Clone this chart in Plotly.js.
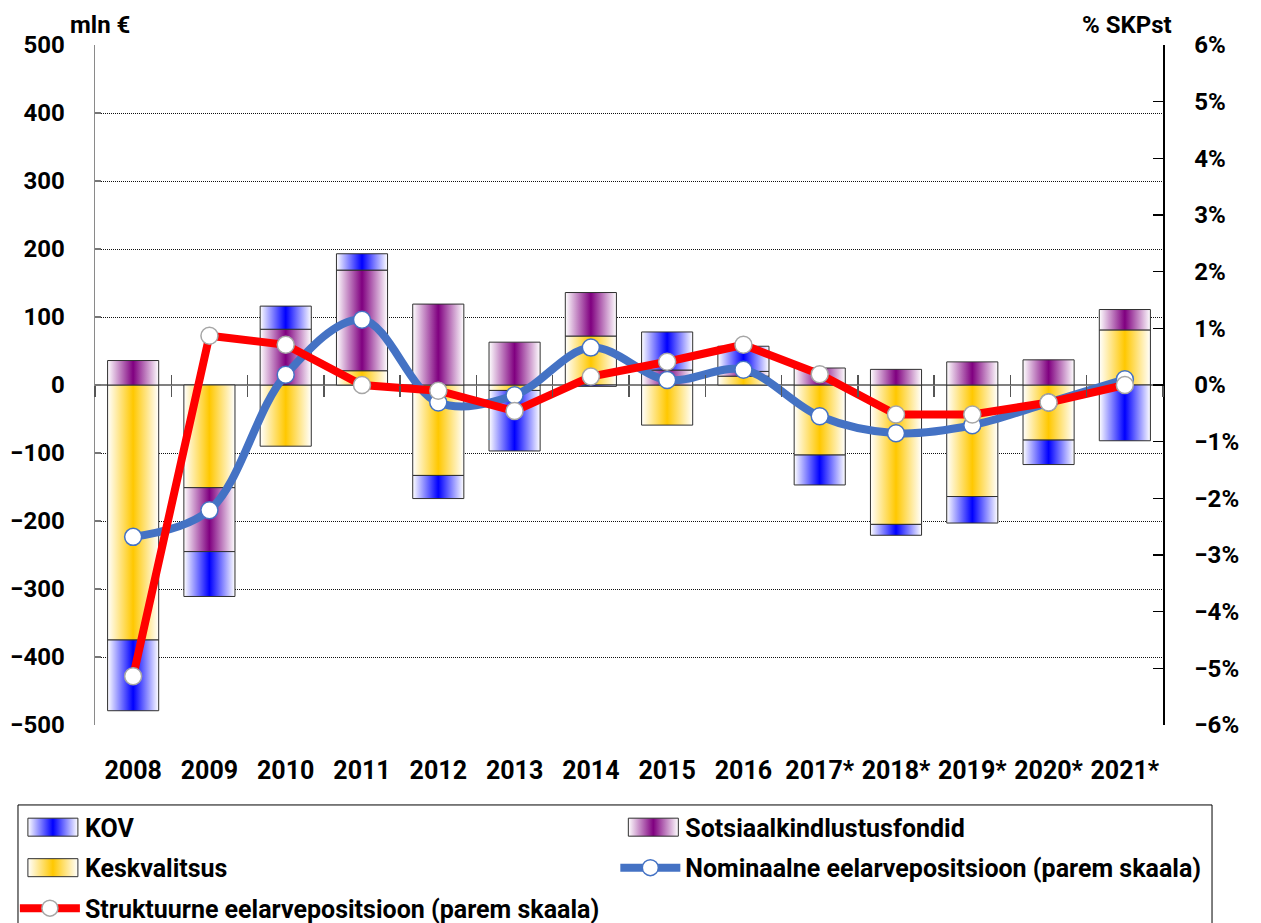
<!DOCTYPE html>
<html>
<head>
<meta charset="utf-8">
<script src="https://cdn.plot.ly/plotly-3.0.1.min.js"></script>
<style>
html,body{margin:0;padding:0;background:#fff;}
#chart{width:1261px;height:923px;}
</style>
</head>
<body>
<div id="chart"></div>
<script>
// ---- data ----
var years = ['2008','2009','2010','2011','2012','2013','2014','2015','2016','2017*','2018*','2019*','2020*','2021*'];
var keskvalitsus = [-375, -151, -90, 21, -133, -8, 72, -59, 13, -103, -205, -164, -81, 81];
var sotsiaal = [36, -94, 82, 148, 119, 63, 64, 22, 7, 25, 23, 34, 37, 30];
var kov = [-104, -66, 34, 24, -34, -89, -2, 56, 37, -44, -16, -39, -36, -82];
var nominaalne = [-2.68, -2.21, 0.18, 1.15, -0.31, -0.18, 0.66, 0.09, 0.27, -0.55, -0.85, -0.71, -0.31, 0.10];
var struktuurne = [-5.14, 0.87, 0.71, 0.0, -0.10, -0.46, 0.15, 0.41, 0.71, 0.19, -0.52, -0.52, -0.31, 0.0];

var names = {
  kov: 'KOV',
  sots: 'Sotsiaalkindlustusfondid',
  kesk: 'Keskvalitsus',
  nom: 'Nominaalne eelarvepositsioon (parem skaala)',
  str: 'Struktuurne eelarvepositsioon (parem skaala)'
};
var gradColors = {};
gradColors[names.kov] = '#0000FF';
gradColors[names.sots] = '#800080';
gradColors[names.kesk] = '#FFC800';

var FONT = 'Roboto, "Liberation Sans", Arial, sans-serif';
var barLine = {color: '#303030', width: 1};

var traces = [
  {type: 'bar', name: names.kesk, x: years, y: keskvalitsus, marker: {color: '#FFC800', line: barLine},
   legend: 'legend', legendgroup: 'g3', legendrank: 2},
  {type: 'bar', name: names.sots, x: years, y: sotsiaal, marker: {color: '#800080', line: barLine},
   legend: 'legend2', legendgroup: 'g2', legendrank: 1},
  {type: 'bar', name: names.kov, x: years, y: kov, marker: {color: '#0000FF', line: barLine},
   legend: 'legend', legendgroup: 'g1', legendrank: 1},
  {type: 'scatter', mode: 'lines+markers', name: names.nom, x: years, y: nominaalne,
   xaxis: 'x2', yaxis: 'y2',
   line: {color: '#4472C4', width: 8, shape: 'spline', smoothing: 1},
   marker: {size: 17, color: '#FFFFFF', line: {color: '#4472C4', width: 1.5}},
   legend: 'legend2', legendgroup: 'g4', legendrank: 2},
  {type: 'scatter', mode: 'lines+markers', name: names.str, x: years, y: struktuurne,
   xaxis: 'x2', yaxis: 'y2',
   line: {color: '#FF0000', width: 8},
   marker: {size: 17, color: '#FFFFFF', line: {color: '#A6A6A6', width: 1.5}},
   legend: 'legend', legendgroup: 'g5', legendrank: 3}
];

var tickF = {family: FONT, size: 24, color: '#000', weight: 700};
var legF = {family: FONT, size: 25, color: '#000', weight: 700};

var layout = {
  width: 1261, height: 923,
  margin: {l: 95, r: 98, t: 45, b: 198, autoexpand: false},
  paper_bgcolor: '#fff', plot_bgcolor: 'rgba(0,0,0,0)',
  font: {family: FONT, size: 24, color: '#000', weight: 700},
  barmode: 'relative', bargap: 0.33,
  xaxis: {
    type: 'category', categoryorder: 'array', categoryarray: years,
    range: [-0.5, 13.5], anchor: 'free', position: 0.5,
    ticks: 'outside', tickson: 'boundaries', ticklen: 11, tickwidth: 1.5, tickcolor: '#555',
    showline: false, showgrid: false, zeroline: false, tickangle: 0,
    tickfont: {family: FONT, size: 25, color: '#000', weight: 700},
    ticklabelstandoff: 368
  },
  xaxis2: {
    type: 'category', categoryorder: 'array', categoryarray: years,
    range: [-0.5, 13.5], overlaying: 'x', anchor: 'free', position: 0.5, side: 'bottom',
    ticks: 'inside', tickson: 'boundaries', ticklen: 10, tickwidth: 1.5, tickcolor: '#555',
    showline: false, showgrid: false, zeroline: false, showticklabels: false
  },
  yaxis: {
    range: [-500, 500], dtick: 100, tick0: 0,
    showline: true, linecolor: '#8a8a8a', linewidth: 1.5,
    ticks: 'inside', ticklen: 6, tickcolor: '#777', tickwidth: 1.5,
    showgrid: true, gridcolor: '#111', gridwidth: 1, griddash: '1px,1px',
    zeroline: true, zerolinecolor: '#808080', zerolinewidth: 1.5,
    tickfont: tickF, ticklabelstandoff: 24
  },
  yaxis2: {
    range: [-6, 6], dtick: 1, tick0: 0, ticksuffix: '%',
    overlaying: 'y', side: 'right', anchor: 'x2',
    showline: true, linecolor: '#000', linewidth: 1.5,
    ticks: 'inside', ticklen: 10, tickcolor: '#000', tickwidth: 1.2,
    showgrid: false, zeroline: false,
    tickfont: tickF, ticklabelstandoff: 25
  },
  legend: {
    x: -0.075, y: -0.1168, xanchor: 'left', yanchor: 'top', xref: 'paper', yref: 'paper',
    orientation: 'v', bgcolor: 'rgba(0,0,0,0)', borderwidth: 0,
    font: legF, itemwidth: 60, tracegroupgap: 5, traceorder: 'grouped', valign: 'middle'
  },
  legend2: {
    x: 0.4872, y: -0.1168, xanchor: 'left', yanchor: 'top', xref: 'paper', yref: 'paper',
    orientation: 'v', bgcolor: 'rgba(0,0,0,0)', borderwidth: 0,
    font: legF, itemwidth: 60, tracegroupgap: 5, traceorder: 'grouped', valign: 'middle'
  },
  shapes: [{
    type: 'rect', xref: 'paper', yref: 'paper', layer: 'below',
    x0: -0.0721, x1: 1.0459, y0: -0.1176, y1: -0.33,
    line: {color: '#000', width: 1}, fillcolor: '#fff'
  }],
  annotations: [
    {text: 'mln €', xref: 'paper', yref: 'paper', x: 0.005, y: 1.0, xanchor: 'center', yanchor: 'bottom',
     showarrow: false, font: {family: FONT, size: 24, color: '#000', weight: 700}, yshift: 4},
    {text: '% SKPst', xref: 'paper', yref: 'paper', x: 0.966, y: 1.0, xanchor: 'center', yanchor: 'bottom',
     showarrow: false, font: {family: FONT, size: 24, color: '#000', weight: 700}, yshift: 4}
  ]
};

function ensureGradients(gd) {
  var svg = gd.querySelector('svg.main-svg');
  var defs = svg.querySelector('defs');
  var NS = 'http://www.w3.org/2000/svg';
  var ids = {};
  var i = 0;
  Object.keys(gradColors).forEach(function(name) {
    var id = 'barGrad' + (i++);
    ids[name] = id;
    var g = document.createElementNS(NS, 'linearGradient');
    g.setAttribute('id', id);
    g.setAttribute('x1', '0'); g.setAttribute('y1', '0');
    g.setAttribute('x2', '1'); g.setAttribute('y2', '0');
    [[0, '#FFFFFF'], [0.5, gradColors[name]], [1, '#FFFFFF']].forEach(function(s) {
      var st = document.createElementNS(NS, 'stop');
      st.setAttribute('offset', s[0]);
      st.setAttribute('stop-color', s[1]);
      g.appendChild(st);
    });
    defs.appendChild(g);
  });
  return ids;
}

function traceName(el) {
  var d = el.__data__;
  if (!d) return null;
  if (Array.isArray(d) && d[0] && d[0].trace) return d[0].trace.name;
  if (d.trace) return d.trace.name;
  return null;
}

function applyGradients(gd) {
  var ids = ensureGradients(gd);
  gd.querySelectorAll('.barlayer g.trace').forEach(function(tr) {
    var nm = traceName(tr);
    if (!ids[nm]) return;
    tr.querySelectorAll('path').forEach(function(p) {
      p.style.fill = 'url(#' + ids[nm] + ')';
      p.style.fillOpacity = 1;
    });
  });
  gd.querySelectorAll('g.traces').forEach(function(tr) {
    var nm = traceName(tr);
    if (!nm) {
      var t = tr.querySelector('text');
      if (t) nm = t.textContent;
    }
    if (!ids[nm]) return;
    tr.querySelectorAll('g.legendpoints path').forEach(function(p) {
      p.setAttribute('d', 'M-22,9H28V-9H-22Z');
      p.style.fill = 'url(#' + ids[nm] + ')';
      p.style.stroke = '#303030';
      p.style.strokeWidth = '1px';
    });
  });
}

var gd = document.getElementById('chart');
Plotly.newPlot(gd, traces, layout, {staticPlot: true, displayModeBar: false}).then(function() {
  applyGradients(gd);
});
</script>
</body>
</html>
